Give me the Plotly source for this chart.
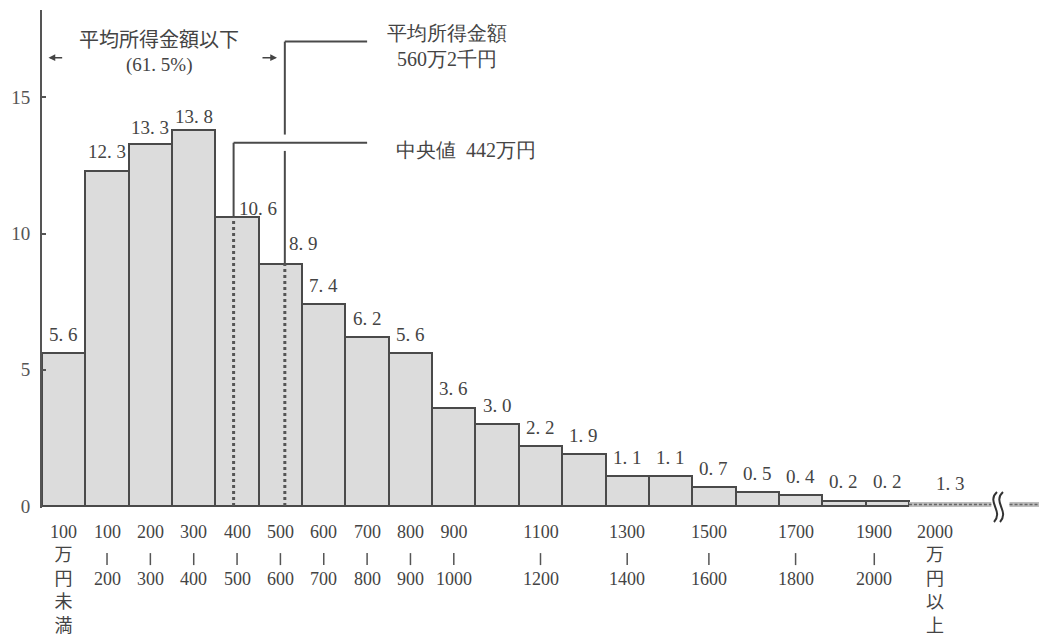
import plotly.graph_objects as go

# Household income distribution (share of households, %) by income bracket (万円)
categories = ["100万円未満", "100～200", "200～300", "300～400", "400～500", "500～600",
              "600～700", "700～800", "800～900", "900～1000", "1000～1100", "1100～1200",
              "1200～1300", "1300～1400", "1400～1500", "1500～1600", "1600～1700",
              "1700～1800", "1800～1900", "1900～2000"]
shares = [5.6, 12.3, 13.3, 13.8, 10.6, 8.9, 7.4, 6.2, 5.6, 3.6,
          3.0, 2.2, 1.9, 1.1, 1.1, 0.7, 0.5, 0.4, 0.2, 0.2]
top_category = "2000万円以上"
top_share = 1.3

# stacked bracket labels, one line per entry ("|" marks a range separator)
tick_labels = [["100", "万", "円", "未", "満"], ["100", "|", "200"], ["200", "|", "300"],
               ["300", "|", "400"], ["400", "|", "500"], ["500", "|", "600"],
               ["600", "|", "700"], ["700", "|", "800"], ["800", "|", "900"],
               ["900", "|", "1000"], [], ["1100", "|", "1200"], [], ["1300", "|", "1400"], [],
               ["1500", "|", "1600"], [], ["1700", "|", "1800"], [], ["1900", "|", "2000"]]
top_tick_label = ["2000", "万", "円", "以", "上"]
y_ticks = [0, 5, 10, 15]

median_income = 442     # 万円
mean_income = 560.2     # 万円
share_below_mean = 61.5  # %

BIN = 100  # bracket width in 万円
NUM = "Liberation Serif"
SERIF = "Liberation Serif, Noto Sans CJK JP"
INK = "#444444"
X_MAX = 23.0
Y_MIN, Y_MAX = -0.07, 18.2
PLOT_L, PLOT_T, PLOT_B = 42, 10, 129
FIG_W, FIG_H = 1039, 637
TICK_FONT = 18
TICK_TOP = 520      # px, top of the bracket label block
LINE_H = 23.4       # px, line pitch of the bracket labels

n = len(shares)
xc = [i + 0.5 for i in range(n)]
plot_w = FIG_W - PLOT_L
plot_h = FIG_H - PLOT_T - PLOT_B


def px_x(px):
    return (px - PLOT_L) / plot_w


def px_y(py):
    return (FIG_H - PLOT_B - py) / plot_h


def x_px(x):
    return PLOT_L + x / X_MAX * plot_w


def fmt(v):
    return f"{v:.1f}".replace(".", ". ")


fig = go.Figure()
fig.add_trace(go.Bar(
    x=xc, y=shares, width=1, customdata=categories,
    marker=dict(color="#dcdcdc", line=dict(color="#4a4a4a", width=2)),
    hovertemplate="%{customdata}: %{y}%<extra></extra>",
))

annotations = []
shapes = []

# value labels; some are nudged to clear the median / mean callouts
label_shift = {2: (0, 16), 3: (0, 13), 4: (21, 9), 5: (23, 20)}
for i, v in enumerate(shares):
    dx, dy = label_shift.get(i, (0, 19))
    annotations.append(dict(x=xc[i], y=v, text=fmt(v), showarrow=False,
                            xshift=dx, yshift=dy,
                            font=dict(family=SERIF, size=19, color=INK)))


def bracket_label(x, lines, shift):
    if not lines:
        return
    text = "<br>".join(" " if s == "|" else s for s in lines)
    annotations.append(dict(x=x, y=0, text=text, showarrow=False, yanchor="top",
                            yshift=-(TICK_TOP - 506), xshift=shift,
                            font=dict(family=SERIF, size=TICK_FONT, color=INK)))
    for k, s in enumerate(lines):
        if s == "|":
            cx = px_x(x_px(x) + shift)
            cy = TICK_TOP + LINE_H * (k + 0.5) + 4
            shapes.append(dict(type="line", xref="paper", yref="paper", x0=cx, x1=cx,
                               y0=px_y(cy - 6), y1=px_y(cy + 6),
                               line=dict(color="#555555", width=1.5)))


tick_xshift = {15: -5, 17: -5, 19: -13}
for i, lines in enumerate(tick_labels):
    bracket_label(xc[i], lines, tick_xshift.get(i, 0))

# open-ended top bracket, drawn as a broken strip beyond the scale
strip_start, strip_end = n, n + 1.9
break_x = n + 2.1
strip_c = (strip_start + strip_end) / 2
annotations.append(dict(x=strip_c, y=0, text=fmt(top_share), showarrow=False,
                        yanchor="middle", yshift=23,
                        font=dict(family=SERIF, size=19, color=INK)))
bracket_label(strip_c, top_tick_label, -15)

line_col = "#4a4a4a"
for seg in [(strip_start, strip_end), (break_x + 0.22, X_MAX)]:
    shapes.append(dict(type="line", xref="x", yref="y", x0=seg[0], x1=seg[1],
                       y0=0.06, y1=0.06, line=dict(color="#bdbdbd", width=5)))
    shapes.append(dict(type="line", xref="x", yref="y", x0=seg[0], x1=seg[1],
                       y0=0.06, y1=0.06, line=dict(color="#666666", width=1.5, dash="3px,2px")))

# axis break mark
bx = x_px(break_x)
for k in range(2):
    o = bx - 5 + 6 * k
    path = (f"M {px_x(o + 2)},{px_y(492)} "
            f"C {px_x(o - 9)},{px_y(502)} {px_x(o + 9)},{px_y(511)} {px_x(o - 1)},{px_y(522)}")
    shapes.append(dict(type="path", xref="paper", yref="paper", path=path,
                       line=dict(color="#333333", width=2)))

# baseline under the bars
shapes.append(dict(type="line", xref="x", yref="y", x0=0, x1=n, y0=0, y1=0,
                   line=dict(color=line_col, width=2)))

# median and mean markers
med_x = median_income / BIN
mean_x = mean_income / BIN
med_top = shares[int(med_x)]
mean_top = shares[int(mean_x)]
callout_end = 7.5
med_y = 13.33
mean_y = 17.04
gap = 0.3

for x, top in [(med_x, med_top), (mean_x, mean_top)]:
    shapes.append(dict(type="line", xref="x", yref="y", x0=x, x1=x, y0=0, y1=top,
                       line=dict(color="#555555", width=3, dash="dot")))
shapes += [
    dict(type="line", xref="x", yref="y", x0=med_x, x1=med_x, y0=med_top, y1=med_y,
         line=dict(color=line_col, width=2)),
    dict(type="line", xref="x", yref="y", x0=med_x, x1=callout_end, y0=med_y, y1=med_y,
         line=dict(color=line_col, width=2)),
    dict(type="line", xref="x", yref="y", x0=mean_x, x1=mean_x, y0=mean_top, y1=med_y - gap,
         line=dict(color=line_col, width=2)),
    dict(type="line", xref="x", yref="y", x0=mean_x, x1=mean_x, y0=med_y + gap, y1=mean_y,
         line=dict(color=line_col, width=2)),
    dict(type="line", xref="x", yref="y", x0=mean_x, x1=callout_end, y0=mean_y, y1=mean_y,
         line=dict(color=line_col, width=2)),
]

man = int(mean_income)
sen = round((mean_income - man) * 10)
annotations += [
    dict(x=callout_end, y=med_y, xanchor="left", yanchor="middle", xshift=27, yshift=-7,
         text=f"中央値  {median_income}万円", showarrow=False,
         font=dict(family=NUM, size=20, color=INK)),
    dict(x=callout_end, y=mean_y, xanchor="center", yanchor="middle", xshift=80, yshift=-4,
         text=f"平均所得金額<br>{man}万{sen}千円",
         showarrow=False, font=dict(family=NUM, size=20, color=INK)),
    dict(x=mean_x / 2 - 0.1, y=17.1, xanchor="center", yanchor="middle",
         text="平均所得金額以下", showarrow=False,
         font=dict(family=SERIF, size=20, color=INK)),
    dict(x=mean_x / 2 - 0.1, y=16.18, xanchor="center", yanchor="middle",
         text=f"({fmt(share_below_mean)}%)", showarrow=False,
         font=dict(family=NUM, size=19, color=INK)),
    # arrows spanning the range below the mean
    dict(x=0.15, y=16.45, ax=0.5, ay=16.45, xref="x", yref="y", axref="x", ayref="y",
         text="", showarrow=True, arrowhead=2, arrowsize=0.9, arrowwidth=1.5, arrowcolor=INK),
    dict(x=mean_x - 0.18, y=16.45, ax=mean_x - 0.55, ay=16.45, xref="x", yref="y",
         axref="x", ayref="y", text="", showarrow=True, arrowhead=2, arrowsize=0.9,
         arrowwidth=1.5, arrowcolor=INK),
]

fig.update_layout(
    width=FIG_W, height=FIG_H,
    margin=dict(l=PLOT_L, r=0, t=PLOT_T, b=PLOT_B, pad=0),
    paper_bgcolor="white", plot_bgcolor="white",
    showlegend=False, bargap=0,
    shapes=shapes, annotations=annotations,
    xaxis=dict(range=[0, X_MAX], showticklabels=False, showgrid=False, zeroline=False,
               showline=False, ticks="", fixedrange=True),
    yaxis=dict(range=[Y_MIN, Y_MAX], tickvals=y_ticks, ticks="inside", ticklen=4,
               tickwidth=1.5, tickcolor="#555555", showline=True, linecolor="#555555",
               linewidth=2, showgrid=False, zeroline=False, ticklabelstandoff=6,
               tickfont=dict(family=SERIF, size=19, color="#555555"), fixedrange=True),
)

fig.write_html("out.html", config={"displayModeBar": False})
